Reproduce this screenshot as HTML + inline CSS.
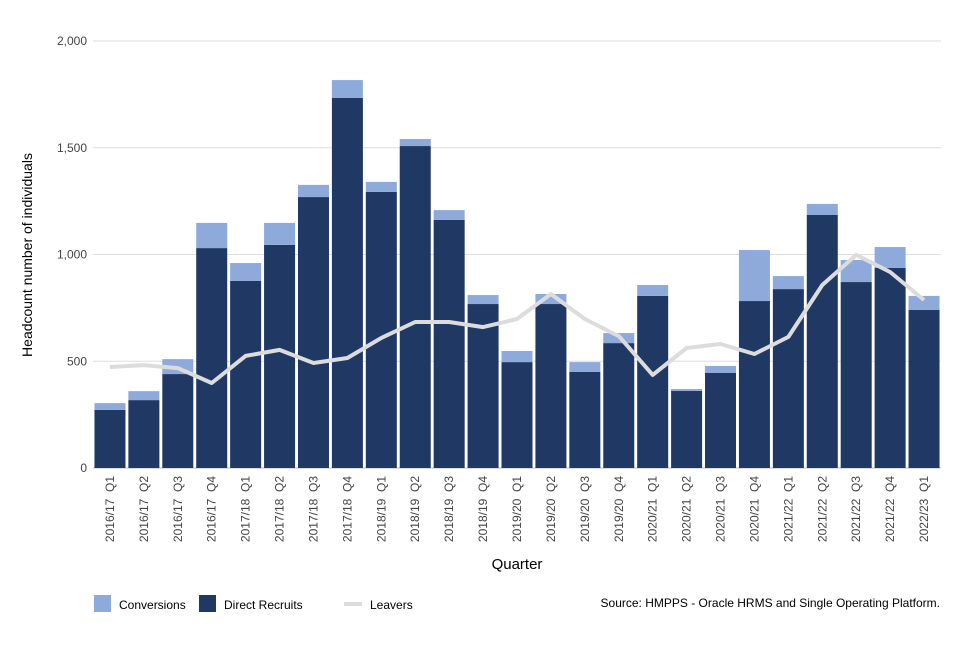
<!DOCTYPE html>
<html><head><meta charset="utf-8"><style>
body{margin:0;background:#fff;font-family:"Liberation Sans",sans-serif;}
svg text{font-family:"Liberation Sans",sans-serif;}
</style></head><body>
<svg id="chart" width="960" height="640" xmlns="http://www.w3.org/2000/svg"></svg>
<script>
const categories=["2016/17 Q1","2016/17 Q2","2016/17 Q3","2016/17 Q4","2017/18 Q1","2017/18 Q2","2017/18 Q3","2017/18 Q4","2018/19 Q1","2018/19 Q2","2018/19 Q3","2018/19 Q4","2019/20 Q1","2019/20 Q2","2019/20 Q3","2019/20 Q4","2020/21 Q1","2020/21 Q2","2020/21 Q3","2020/21 Q4","2021/22 Q1","2021/22 Q2","2021/22 Q3","2021/22 Q4","2022/23 Q1"];
const directRecruits=[272,318,440,1030,876,1045,1269,1733,1293,1508,1162,768,496,768,450,585,806,361,445,782,838,1185,871,937,740];
const conversions=[32,42,70,118,84,103,57,84,47,33,46,42,52,47,46,47,51,9,33,239,61,52,103,98,66];
const leavers=[473,482,468,398,525,553,492,515,609,684,684,660,698,815,698,618,436,562,581,534,614,857,998,918,787];
const yTicks=[0,500,1000,1500,2000];
const yTickLabels=["0","500","1,000","1,500","2,000"];

const NS="http://www.w3.org/2000/svg";
const svg=document.getElementById('chart');
const L=93,R=941,T=41,B=468,yMax=2000;
const band=(R-L)/categories.length, bw=31;
const y=v=>B-(v/yMax)*(B-T);
const xc=i=>L+band*(i+0.5);
function mk(tag,attrs,parent){const e=document.createElementNS(NS,tag);for(const k in attrs)e.setAttribute(k,attrs[k]);(parent||svg).appendChild(e);return e;}

yTicks.forEach((t,i)=>{
  const g=mk('line',{x1:L,x2:R,y1:y(t),y2:y(t),stroke:i===0?'#bbb':'#dedede','stroke-width':1});
  
  
  const tx=mk('text',{x:87,y:y(t)+4,'text-anchor':'end','font-size':12,fill:'#444'});
  tx.textContent=yTickLabels[i];
  
  
});

categories.forEach((c,i)=>{
  const d=mk('rect',{x:xc(i)-bw/2,y:y(directRecruits[i]),width:bw,height:B-y(directRecruits[i]),fill:'#203864'});
  
  
  const top=directRecruits[i]+conversions[i];
  const cv=mk('rect',{x:xc(i)-bw/2,y:y(top),width:bw,height:y(directRecruits[i])-y(top),fill:'#8eaadb'});
  
  
  const tx=mk('text',{transform:`translate(${xc(i)+4},476) rotate(-90)`,'text-anchor':'end','font-size':12,fill:'#444'});
  tx.textContent=c.replace(' ','\u00a0\u00a0');
  
  
});

const pts=leavers.map((v,i)=>xc(i).toFixed(1)+','+y(v).toFixed(1)).join(' ');
const pl=mk('polyline',{points:pts,fill:'none',stroke:'#dcdcdc','stroke-width':4,'stroke-linejoin':'round'});



const yt=mk('text',{transform:'translate(32,255) rotate(-90)','text-anchor':'middle','font-size':14,fill:'#000'});
yt.textContent='Headcount number of individuals';


const xt=mk('text',{x:517,y:569,'text-anchor':'middle','font-size':15,fill:'#000'});
xt.textContent='Quarter';



const l1=mk('rect',{x:94,y:595,width:17,height:17,fill:'#8eaadb'});


const lt1=mk('text',{x:119,y:609,'font-size':12,fill:'#000'});lt1.textContent='Conversions';


const l2=mk('rect',{x:199,y:595,width:17,height:17,fill:'#203864'});


const lt2=mk('text',{x:224,y:609,'font-size':12,fill:'#000'});lt2.textContent='Direct Recruits';


const l3=mk('line',{x1:344,x2:362,y1:604,y2:604,stroke:'#dcdcdc','stroke-width':4});


const lt3=mk('text',{x:370,y:609,'font-size':12,fill:'#000'});lt3.textContent='Leavers';


const src=mk('text',{x:940,y:607,'text-anchor':'end','font-size':12,fill:'#000'});
src.textContent='Source: HMPPS - Oracle HRMS and Single Operating Platform.';


</script>
</body></html>
